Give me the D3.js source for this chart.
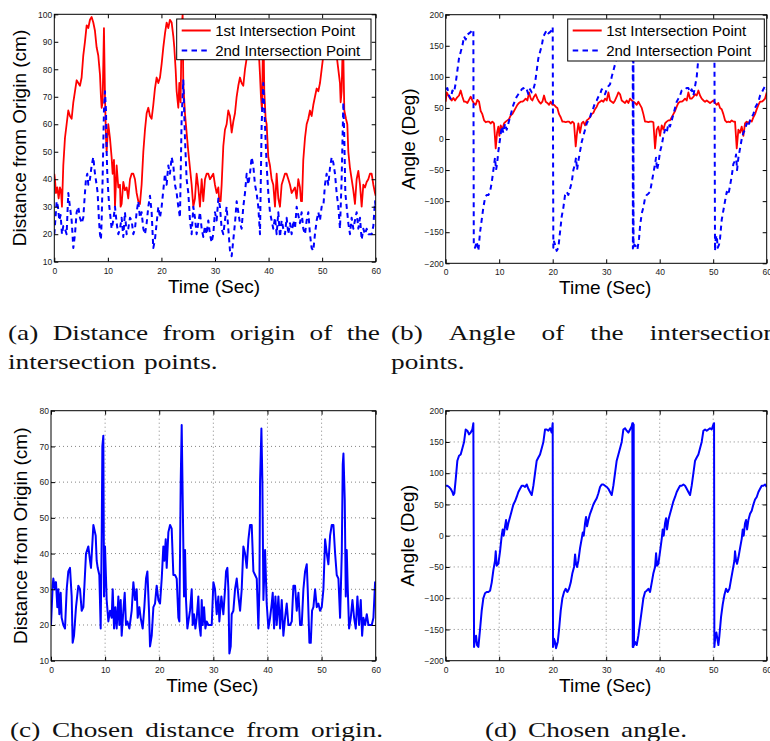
<!DOCTYPE html>
<html><head><meta charset="utf-8">
<script src="https://cdn.jsdelivr.net/npm/d3@7"></script>
<style>body{margin:0;background:#fff}svg{display:block}</style>
</head><body>
<svg id="chart" width="770" height="741"></svg>
<script>
// ---------- DATA ----------
const timeTicks = [0, 10, 20, 30, 40, 50, 60];
const distTicksA = [10, 20, 30, 40, 50, 60, 70, 80, 90, 100];
const distTicksC = [10, 20, 30, 40, 50, 60, 70, 80];
const angleTicks = [-200, -150, -100, -50, 0, 50, 100, 150, 200];
const legendLabels = ["1st Intersection Point", "2nd Intersection Point"];
const xLabel = "Time (Sec)";
const distLabel = "Distance from Origin (cm)";
const angleLabel = "Angle (Deg)";

// (a) distance of 1st intersection point [time s, cm]
const distFirst = [[0,42],[0.12,40],[0.31,35],[0.56,37],[0.81,33],[1.06,37],[1.24,36],[1.43,30],[1.68,45],[1.99,55],[2.30,60],[2.61,65],[2.92,63],[3.24,62],[3.55,68],[3.86,72],[4.17,76],[4.48,75],[4.79,74],[5.10,77],[5.41,85],[5.72,90],[6.04,96],[6.35,95],[6.66,98],[6.97,99],[7.28,97],[7.59,94],[7.90,88],[8.21,85],[8.53,78],[8.71,70],[8.84,66],[9.02,68],[9.27,95],[9.46,70],[9.65,55],[9.77,50],[10.08,60],[10.39,55],[10.70,48],[10.89,42],[11.14,47],[11.33,30],[11.64,45],[11.95,37],[12.26,38],[12.38,30],[12.57,31],[12.88,39],[13.19,36],[13.50,37],[13.81,33],[14.13,40],[14.44,42],[14.75,42],[15.06,40],[15.37,35],[15.68,32],[15.99,31],[16.30,38],[16.62,50],[16.93,58],[17.24,64],[17.55,66],[17.86,63],[18.17,62],[18.48,67],[18.79,73],[19.10,77],[19.42,75],[19.73,77],[20.04,82],[20.35,88],[20.66,93],[20.97,97],[21.28,95],[21.59,98],[21.91,97],[22.22,92],[22.40,88],[22.65,80],[22.84,72],[23.15,66],[23.34,75],[23.58,68],[23.77,95],[23.96,100],[24.08,75],[24.39,64],[24.70,57],[25.02,50],[25.33,44],[25.64,38],[25.95,30],[26.26,33],[26.57,42],[26.88,37],[27.19,30],[27.51,40],[27.82,32],[28.13,40],[28.44,42],[28.75,42],[29.06,40],[29.68,42],[29.99,38],[30.31,35],[30.62,37],[30.80,32],[31.05,32],[31.24,38],[31.55,52],[31.86,58],[32.17,60],[32.48,65],[32.80,63],[33.11,57],[33.42,61],[33.73,64],[34.04,70],[34.35,74],[34.66,77],[34.97,75],[35.28,74],[35.60,80],[35.91,84],[36.22,88],[36.53,93],[36.84,96],[37.15,97],[37.46,98],[37.77,95],[38.08,90],[38.40,78],[38.58,70],[38.77,65],[39.02,98],[39.20,72],[39.45,62],[39.64,60],[39.95,48],[40.26,45],[40.57,40],[40.88,38],[41.20,30],[41.51,42],[41.82,33],[42.13,30],[42.44,38],[42.75,40],[43.06,42],[43.37,42],[43.69,40],[44.00,38],[44.31,35],[44.62,36],[44.93,37],[45.24,33],[45.55,40],[45.86,37],[46.05,32],[46.24,32],[46.48,47],[46.80,55],[47.11,60],[47.42,62],[47.73,65],[48.04,63],[48.35,67],[48.66,70],[48.98,73],[49.29,72],[49.60,75],[49.91,80],[50.22,85],[50.53,90],[50.84,96],[51.15,98],[51.46,97],[51.78,97],[52.09,95],[52.40,90],[52.71,85],[53.02,80],[53.33,75],[53.46,68],[53.64,72],[53.83,88],[53.96,85],[54.14,65],[54.45,62],[54.70,60],[54.89,50],[55.20,44],[55.51,40],[55.82,36],[56.13,31],[56.44,40],[56.76,43],[57.07,38],[57.38,30],[57.69,38],[58.00,37],[58.31,39],[58.62,40],[58.93,42],[59.24,42],[59.56,38],[59.87,35],[60,34]];

// (a) distance of 2nd intersection point
const distSecond = [[0,20],[0.19,25],[0.44,32],[0.68,30],[0.93,25],[1.18,27],[1.43,20],[1.68,23],[1.99,22],[2.30,20],[2.61,35],[2.92,30],[3.24,25],[3.55,15],[3.86,20],[4.17,28],[4.48,30],[4.79,26],[5.10,24],[5.41,26],[5.72,35],[5.91,40],[6.16,42],[6.35,38],[6.66,40],[6.97,45],[7.28,48],[7.59,42],[7.90,38],[8.09,35],[8.34,25],[8.53,20],[8.71,18],[8.84,25],[9.02,40],[9.27,65],[9.46,72],[9.65,65],[9.77,50],[9.89,42],[10.08,35],[10.27,30],[10.39,28],[10.70,22],[11.01,25],[11.33,30],[11.64,24],[11.95,20],[12.26,22],[12.57,26],[12.88,19],[13.19,28],[13.50,20],[13.81,22],[14.13,26],[14.44,25],[14.75,20],[15.06,22],[15.37,28],[15.68,32],[15.99,26],[16.30,28],[16.62,22],[16.93,20],[17.24,24],[17.55,30],[17.86,34],[18.17,28],[18.48,15],[18.79,18],[19.10,24],[19.42,30],[19.73,26],[20.04,30],[20.35,36],[20.66,42],[20.97,38],[21.28,45],[21.59,42],[21.91,48],[22.22,45],[22.53,38],[22.84,35],[23.15,30],[23.46,26],[23.77,62],[24.08,76],[24.39,55],[24.70,40],[25.02,35],[25.33,25],[25.64,20],[25.95,30],[26.26,26],[26.57,20],[26.88,24],[27.19,28],[27.51,22],[27.82,19],[28.13,23],[28.44,20],[28.75,25],[29.06,20],[29.37,17],[29.68,20],[29.99,28],[30.31,25],[30.62,33],[30.93,30],[31.24,22],[31.55,20],[31.86,25],[32.17,30],[32.48,22],[32.80,14],[33.11,12],[33.42,18],[33.73,24],[34.04,32],[34.35,28],[34.66,24],[34.97,22],[35.28,30],[35.60,35],[35.91,42],[36.22,38],[36.53,42],[36.84,48],[37.15,45],[37.46,38],[37.77,35],[38.08,30],[38.40,20],[38.71,60],[39.02,75],[39.33,60],[39.64,45],[39.95,35],[40.26,28],[40.57,25],[40.88,22],[41.20,26],[41.51,20],[41.82,28],[42.13,19],[42.44,25],[42.75,22],[43.06,20],[43.37,26],[43.69,20],[44.00,24],[44.31,20],[44.62,25],[44.93,22],[45.24,30],[45.55,27],[45.86,24],[46.17,28],[46.48,22],[46.80,20],[47.11,25],[47.42,28],[47.73,20],[48.04,15],[48.35,14],[48.66,20],[48.98,25],[49.29,28],[49.60,25],[49.91,30],[50.22,30],[50.53,38],[50.84,42],[51.15,38],[51.46,44],[51.78,48],[52.09,46],[52.40,42],[52.71,35],[53.02,30],[53.33,22],[53.64,40],[53.96,68],[54.14,55],[54.33,35],[54.58,30],[54.89,24],[55.20,20],[55.51,26],[55.82,22],[56.13,25],[56.44,28],[56.76,22],[57.07,26],[57.38,18],[57.69,22],[58.00,20],[58.31,22],[58.62,20],[58.93,20],[59.24,20],[59.56,23],[59.87,32],[60,30]];

// (b) angle of 1st intersection point [time s, deg]
const angleFirst = [[0,60],[0.19,75],[0.50,70],[0.81,65],[1.12,62],[1.43,66],[1.74,62],[2.06,66],[2.49,70],[2.80,78],[3.12,68],[3.43,60],[3.74,60],[4.05,58],[4.36,63],[4.67,68],[4.98,62],[5.30,57],[5.61,55],[5.92,63],[6.23,60],[6.54,45],[6.85,40],[7.17,30],[7.48,27],[7.79,28],[8.10,28],[8.41,25],[8.72,28],[9.03,25],[9.35,-15],[9.60,10],[9.84,20],[10.03,5],[10.28,22],[10.59,15],[10.90,25],[11.22,28],[11.53,30],[11.84,32],[12.15,38],[12.46,40],[12.77,45],[13.09,50],[13.40,55],[13.71,58],[14.02,60],[14.33,60],[14.64,62],[14.95,65],[15.27,62],[15.58,75],[15.89,65],[16.20,62],[16.51,68],[16.82,72],[17.14,65],[17.45,60],[17.76,57],[18.07,60],[18.38,70],[18.69,60],[19.00,58],[19.32,55],[19.63,60],[19.94,55],[20.25,55],[20.56,52],[20.87,50],[21.19,40],[21.50,35],[21.81,28],[22.12,28],[22.43,27],[22.74,28],[23.05,28],[23.37,25],[23.68,28],[23.99,25],[24.30,-12],[24.55,10],[24.80,25],[25.11,10],[25.42,25],[25.73,28],[26.05,22],[26.36,30],[26.67,32],[26.98,35],[27.29,40],[27.60,42],[27.91,48],[28.23,52],[28.54,58],[28.85,60],[29.16,62],[29.47,60],[29.78,65],[30.10,62],[30.41,75],[30.72,62],[31.03,60],[31.34,58],[31.65,62],[31.96,68],[32.28,75],[32.59,72],[32.90,62],[33.21,60],[33.52,58],[33.83,62],[34.15,58],[34.46,65],[34.77,62],[35.08,60],[35.39,58],[35.70,55],[36.01,60],[36.33,55],[36.64,50],[36.95,40],[37.26,28],[37.57,28],[37.88,27],[38.20,28],[38.51,28],[38.82,27],[39.13,-15],[39.44,15],[39.75,20],[40.07,5],[40.38,22],[40.69,15],[41.00,25],[41.31,28],[41.62,30],[41.93,30],[42.25,35],[42.56,40],[42.87,45],[43.18,52],[43.49,58],[43.80,60],[44.11,60],[44.43,62],[44.74,65],[45.05,62],[45.36,75],[45.67,65],[45.98,65],[46.30,68],[46.61,72],[46.92,70],[47.23,78],[47.54,70],[47.85,65],[48.17,62],[48.48,60],[48.79,62],[49.10,60],[49.41,58],[49.72,60],[50.03,62],[50.34,58],[50.66,55],[50.97,58],[51.28,50],[51.59,48],[51.90,40],[52.21,30],[52.53,27],[52.84,28],[53.15,27],[53.46,30],[53.77,28],[54.08,28],[54.40,-15],[54.71,15],[55.02,10],[55.33,20],[55.64,5],[55.95,25],[56.26,28],[56.58,25],[56.89,30],[57.20,28],[57.51,35],[57.82,40],[58.14,48],[58.45,55],[58.76,60],[59.07,60],[59.38,62],[59.69,65],[60,75]];

// (b) angle of 2nd intersection point
const angleSecond = [[0,80],[0.31,82],[0.62,70],[0.93,65],[1.25,78],[1.56,75],[1.87,90],[2.18,110],[2.49,130],[2.80,140],[3.12,150],[3.43,165],[3.74,160],[4.05,168],[4.36,170],[4.67,172],[4.98,175],[5.17,176],[5.25,-170],[5.48,-175],[5.80,-165],[6.11,-180],[6.42,-150],[6.73,-130],[7.04,-110],[7.35,-95],[7.66,-90],[7.98,-90],[8.29,-85],[8.60,-70],[8.91,-50],[9.22,-30],[9.41,-50],[9.60,-40],[9.84,-20],[10.16,0],[10.47,20],[10.78,10],[11.09,25],[11.40,15],[11.71,25],[12.03,35],[12.34,45],[12.65,55],[12.96,62],[13.27,68],[13.58,72],[13.90,75],[14.21,80],[14.52,82],[14.83,78],[15.14,80],[15.45,72],[15.76,80],[16.08,75],[16.39,80],[16.70,90],[17.01,110],[17.32,130],[17.63,140],[17.95,150],[18.26,165],[18.57,170],[18.88,175],[19.19,170],[19.50,172],[19.81,175],[20.00,180],[20.12,-175],[20.25,-165],[20.44,-170],[20.75,-180],[21.06,-175],[21.37,-150],[21.68,-125],[22.00,-110],[22.31,-90],[22.62,-85],[22.93,-90],[23.24,-80],[23.55,-70],[23.86,-50],[24.18,-40],[24.36,-30],[24.55,-50],[24.80,-35],[25.11,-20],[25.42,-5],[25.73,5],[26.05,15],[26.36,25],[26.67,30],[26.98,35],[27.29,45],[27.60,50],[27.91,58],[28.23,62],[28.54,68],[28.85,72],[29.16,80],[29.47,78],[29.78,72],[30.10,80],[30.41,85],[30.72,88],[31.03,100],[31.34,110],[31.65,120],[31.96,130],[32.28,150],[32.90,170],[33.52,170],[34.15,172],[34.77,175],[34.96,180],[34.99,-176],[35.02,179],[35.05,-175],[35.08,178],[35.11,-174],[35.27,-170],[35.52,-172],[35.83,-178],[36.14,-160],[36.33,-140],[36.64,-120],[36.95,-110],[37.26,-95],[37.57,-90],[37.88,-88],[38.20,-85],[38.51,-70],[38.82,-55],[39.13,-40],[39.32,-30],[39.50,-50],[39.75,-40],[40.07,-20],[40.38,-10],[40.69,5],[41.00,15],[41.31,10],[41.62,25],[41.93,20],[42.25,30],[42.56,40],[42.87,50],[43.18,60],[43.49,65],[43.80,70],[44.11,78],[44.43,80],[44.74,80],[45.05,82],[45.36,82],[45.67,75],[45.98,80],[46.30,70],[46.61,85],[46.92,100],[47.23,130],[47.54,150],[48.17,165],[48.79,170],[49.41,172],[50.03,175],[50.22,178],[50.34,-180],[50.47,-160],[50.66,-155],[50.84,-175],[51.09,-170],[51.28,-160],[51.59,-130],[51.90,-115],[52.21,-100],[52.53,-85],[52.84,-90],[53.15,-75],[53.46,-60],[53.77,-40],[54.08,-35],[54.27,-25],[54.46,-50],[54.71,-30],[55.02,-15],[55.33,0],[55.64,10],[55.95,15],[56.26,25],[56.58,20],[56.89,30],[57.20,35],[57.51,40],[57.82,50],[58.14,55],[58.45,60],[58.76,70],[59.07,75],[59.38,80],[59.69,85],[60,80]];

// (c) chosen distance from origin
const chosenDist = [[0,20],[0.31,31],[0.43,33],[0.74,30],[0.92,32],[1.17,25],[1.36,30],[1.54,23],[1.79,29],[1.97,22],[2.28,20],[2.59,19],[2.90,30],[3.20,35],[3.51,36],[3.82,28],[4.00,15],[4.25,17],[4.62,25],[5.05,31],[5.36,30],[5.67,24],[5.98,25],[6.47,40],[6.90,42],[7.21,38],[7.39,36],[7.83,48],[8.26,45],[8.44,38],[8.63,36],[8.93,34],[9.18,19],[9.37,45],[9.49,70],[9.67,73],[9.80,28],[9.98,42],[10.29,27],[10.60,21],[10.91,24],[11.21,22],[11.40,30],[11.65,19],[11.89,25],[12.14,19],[12.45,28],[12.63,20],[12.88,27],[13.06,17],[13.37,24],[13.62,29],[13.86,20],[14.11,21],[14.48,19],[14.91,24],[15.22,32],[15.53,27],[15.83,30],[16.02,22],[16.33,25],[16.57,22],[16.94,19],[17.25,25],[17.56,33],[17.81,35],[18.11,24],[18.30,14],[18.61,17],[18.92,25],[19.22,26],[19.53,31],[19.84,27],[20.15,26],[20.46,33],[20.76,42],[20.95,38],[21.20,44],[21.38,36],[21.69,46],[22.00,48],[22.30,47],[22.61,34],[22.92,34],[23.23,33],[23.54,22],[23.72,21],[23.97,60],[24.15,76],[24.34,55],[24.58,28],[24.77,41],[24.95,27],[25.20,19],[25.39,21],[25.69,24],[26.00,30],[26.19,20],[26.43,23],[26.68,19],[26.93,22],[27.23,28],[27.42,20],[27.66,17],[27.85,27],[28.03,20],[28.28,25],[28.53,19],[28.77,21],[29.08,20],[29.39,20],[29.70,20],[30.01,32],[30.31,30],[30.62,23],[30.93,28],[31.11,21],[31.48,28],[31.85,23],[32.16,30],[32.35,35],[32.59,36],[32.78,30],[32.96,12],[33.21,14],[33.39,23],[33.70,24],[34.01,30],[34.32,33],[34.63,28],[34.94,24],[35.24,30],[35.55,42],[35.86,40],[36.17,36],[36.48,44],[36.78,48],[37.09,48],[37.40,35],[37.71,34],[38.02,33],[38.32,19],[38.51,30],[38.63,60],[38.88,75],[39.06,60],[39.25,27],[39.56,41],[39.86,26],[40.17,19],[40.48,22],[40.79,26],[40.97,29],[41.22,19],[41.47,28],[41.71,20],[42.02,28],[42.33,19],[42.64,27],[42.94,17],[43.25,22],[43.56,26],[43.87,20],[44.18,20],[44.49,21],[44.79,31],[45.10,31],[45.41,24],[45.72,29],[46.03,20],[46.33,20],[46.64,30],[46.95,35],[47.26,37],[47.44,30],[47.75,15],[48.00,15],[48.24,24],[48.49,25],[48.80,30],[49.11,25],[49.41,26],[49.72,24],[50.03,25],[50.34,30],[50.65,44],[50.96,40],[51.26,37],[51.57,45],[51.88,48],[52.19,48],[52.50,40],[52.80,34],[53.11,33],[53.42,22],[53.73,40],[53.91,65],[54.04,68],[54.28,55],[54.47,28],[54.65,41],[54.84,30],[55.08,19],[55.39,22],[55.70,27],[56.01,22],[56.32,19],[56.62,28],[56.93,20],[57.24,27],[57.49,17],[57.73,22],[58.04,20],[58.35,23],[58.66,20],[58.97,20],[59.27,20],[59.58,22],[59.89,32],[60,31]];

// (d) chosen angle
const chosenAngle = [[0,80],[0.31,80],[0.62,78],[0.93,75],[1.25,70],[1.43,65],[1.62,68],[1.87,90],[2.18,120],[2.49,128],[2.80,130],[3.12,140],[3.43,150],[3.74,170],[4.05,168],[4.36,162],[4.67,165],[4.98,170],[5.17,180],[5.30,-178],[5.48,-165],[5.67,-160],[5.86,-175],[6.11,-178],[6.42,-150],[6.73,-120],[7.04,-100],[7.35,-92],[7.66,-90],[7.98,-90],[8.29,-88],[8.60,-75],[8.91,-55],[9.22,-40],[9.35,-25],[9.53,-48],[9.84,-45],[10.16,-25],[10.47,0],[10.65,10],[10.84,0],[11.09,15],[11.28,25],[11.47,10],[11.71,20],[12.03,30],[12.34,40],[12.65,50],[12.96,55],[13.27,62],[13.58,70],[13.90,75],[14.21,80],[14.52,80],[14.83,78],[15.14,82],[15.45,75],[15.76,70],[16.08,65],[16.39,80],[16.70,100],[17.01,120],[17.32,125],[17.63,130],[17.95,140],[18.26,150],[18.57,170],[18.88,170],[19.19,168],[19.50,172],[19.81,165],[20.00,180],[20.06,-178],[20.25,-165],[20.44,-170],[20.62,-180],[20.94,-170],[21.19,-150],[21.50,-120],[21.81,-100],[22.12,-90],[22.43,-85],[22.74,-90],[23.05,-85],[23.37,-75],[23.68,-60],[23.99,-50],[24.18,-30],[24.36,-45],[24.55,-50],[24.80,-40],[25.11,-20],[25.42,-5],[25.61,5],[25.80,0],[26.05,20],[26.23,30],[26.42,15],[26.67,25],[26.98,35],[27.29,42],[27.60,50],[27.91,55],[28.23,60],[28.54,68],[28.85,78],[29.16,82],[29.47,82],[29.78,80],[30.10,78],[30.41,75],[30.72,70],[31.03,65],[31.34,80],[31.65,100],[31.96,120],[32.28,130],[32.59,140],[32.90,150],[33.21,170],[33.52,172],[33.83,168],[34.15,165],[34.46,170],[34.77,175],[34.89,180],[34.96,-178],[35.02,180],[35.08,-178],[35.14,178],[35.20,-175],[35.39,-170],[35.70,-175],[36.01,-160],[36.33,-140],[36.64,-120],[36.95,-100],[37.26,-90],[37.57,-88],[37.88,-85],[38.20,-90],[38.51,-75],[38.82,-60],[39.13,-50],[39.32,-28],[39.50,-48],[39.75,-45],[40.07,-25],[40.38,-5],[40.56,10],[40.75,0],[41.00,20],[41.19,28],[41.37,10],[41.62,25],[41.93,35],[42.25,45],[42.56,55],[42.87,62],[43.18,70],[43.49,75],[43.80,80],[44.11,80],[44.43,82],[44.74,80],[45.05,75],[45.36,70],[45.67,65],[45.98,80],[46.30,100],[46.61,120],[46.92,125],[47.23,130],[47.54,140],[47.85,150],[48.17,168],[48.48,170],[48.79,168],[49.10,170],[49.41,172],[49.72,170],[50.03,178],[50.16,180],[50.22,-178],[50.41,-160],[50.60,-155],[50.78,-165],[50.97,-175],[51.16,-160],[51.47,-130],[51.78,-110],[52.09,-95],[52.40,-85],[52.71,-90],[53.03,-85],[53.34,-70],[53.65,-55],[53.96,-40],[54.08,-25],[54.27,-40],[54.46,-45],[54.71,-35],[55.02,-20],[55.33,-5],[55.52,10],[55.70,0],[55.95,20],[56.14,25],[56.33,10],[56.58,25],[56.89,35],[57.20,40],[57.51,50],[57.82,58],[58.14,62],[58.45,70],[58.76,75],[59.07,80],[59.38,80],[59.69,82],[60,78]];

const captionA = [["(a)","Distance","from","origin","of","the"],["intersection","points."]];
const captionB = [["(b)","Angle","of","the","intersection"],["points."]];
const captionC = [["(c)","Chosen","distance","from","origin."]];
const captionD = [["(d)","Chosen","angle."]];

// ---------- DRAW ----------
const svg = d3.select("#chart");
const SANS = "'Liberation Sans', Arial, Helvetica, sans-serif";
const SERIF = "'Liberation Serif', 'Times New Roman', serif";
const RED = "#ff0000", BLUE = "#0000ff";

const panels = [
  {id:"a", l:54.3, r:375.7, t:14.3, b:261.7, yDomain:[10,100], yTicks:distTicksA, yLabel:distLabel, ylx:25.8, grid:false,
   series:[{data:distFirst,color:RED,width:1.8,dash:null},{data:distSecond,color:BLUE,width:2,dash:"5,4"}],
   legend:{x:176.7,y:19,w:194.3,h:40.7}},
  {id:"b", l:445.7, r:766.7, t:14.7, b:263.3, yDomain:[-200,200], yTicks:angleTicks, yLabel:angleLabel, ylx:414.8, grid:false,
   series:[{data:angleFirst,color:RED,width:1.8,dash:null},{data:angleSecond,color:BLUE,width:2,dash:"5,4"}],
   legend:{x:567.7,y:19,w:196.6,h:42}},
  {id:"c", l:51, r:375.7, t:410.7, b:660.7, yDomain:[10,80], yTicks:distTicksC, yLabel:distLabel, ylx:26.6, grid:true,
   series:[{data:chosenDist,color:BLUE,width:2,dash:null}]},
  {id:"d", l:445.7, r:766.7, t:410.7, b:660.7, yDomain:[-200,200], yTicks:angleTicks, yLabel:angleLabel, ylx:414, grid:true,
   series:[{data:chosenAngle,color:BLUE,width:2,dash:null}]}
];

panels.forEach(p => {
  const x = d3.scaleLinear().domain([0,60]).range([p.l,p.r]);
  const y = d3.scaleLinear().domain(p.yDomain).range([p.b,p.t]);
  const g = svg.append("g");

  g.append("clipPath").attr("id","clip-"+p.id)
    .append("rect").attr("x",p.l).attr("y",p.t).attr("width",p.r-p.l).attr("height",p.b-p.t);

  if (p.grid) {
    const gg = g.append("g").attr("stroke","#666").attr("stroke-width",0.8).attr("stroke-dasharray","1,3");
    gg.selectAll("line.vx").data(timeTicks.slice(1,-1)).join("line")
      .attr("x1",d=>x(d)).attr("x2",d=>x(d)).attr("y1",p.t).attr("y2",p.b);
    gg.selectAll("line.hy").data(p.yTicks.slice(1,-1)).join("line")
      .attr("x1",p.l).attr("x2",p.r).attr("y1",d=>y(d)).attr("y2",d=>y(d));
  }

  const line = d3.line().x(d=>x(d[0])).y(d=>y(d[1]));
  const lg = g.append("g").attr("clip-path",`url(#clip-${p.id})`);
  p.series.forEach(s => {
    lg.append("path").datum(s.data).attr("d",line)
      .attr("fill","none").attr("stroke",s.color).attr("stroke-width",s.width)
      .attr("stroke-linejoin","round")
      .attr("stroke-dasharray",s.dash);
  });

  const styleAxis = sel => {
    sel.select(".domain").remove();
    sel.attr("font-family",SANS).attr("font-size",8.5);
    sel.selectAll("text").attr("fill","#1a1a1a");
    sel.selectAll("line").attr("stroke","#000");
  };
  g.append("g").attr("transform",`translate(0,${p.b})`)
    .call(d3.axisBottom(x).tickValues(timeTicks).tickSize(-4).tickPadding(6)).call(styleAxis);
  g.append("g").attr("transform",`translate(0,${p.t})`)
    .call(d3.axisTop(x).tickValues(timeTicks).tickSize(-4).tickFormat("")).call(styleAxis);
  g.append("g").attr("transform",`translate(${p.l},0)`)
    .call(d3.axisLeft(y).tickValues(p.yTicks).tickSize(-4).tickPadding(2)).call(styleAxis);
  g.append("g").attr("transform",`translate(${p.r},0)`)
    .call(d3.axisRight(y).tickValues(p.yTicks).tickSize(-4).tickFormat("")).call(styleAxis);

  g.append("rect").attr("x",p.l).attr("y",p.t).attr("width",p.r-p.l).attr("height",p.b-p.t)
    .attr("fill","none").attr("stroke","#000").attr("stroke-width",1);

  g.append("text").attr("x",(p.l+p.r)/2 - 1).attr("y",p.b+31)
    .attr("text-anchor","middle").attr("font-family",SANS).attr("font-size",19).text(xLabel);
  g.append("text").attr("transform",`translate(${p.ylx},${(p.t+p.b)/2}) rotate(-90)`)
    .attr("text-anchor","middle").attr("font-family",SANS).attr("font-size",19).text(p.yLabel);

  if (p.legend) {
    const L = p.legend;
    const lgd = g.append("g");
    lgd.append("rect").attr("x",L.x).attr("y",L.y).attr("width",L.w).attr("height",L.h)
      .attr("fill","#fff").attr("stroke","#000").attr("stroke-width",1);
    p.series.forEach((s,i) => {
      const cy = L.y + 11.5 + i*20;
      lgd.append("line").attr("x1",L.x+5).attr("x2",L.x+34).attr("y1",cy).attr("y2",cy)
        .attr("stroke",s.color).attr("stroke-width",2).attr("stroke-dasharray",s.dash ? "5.5,4.3" : null);
      lgd.append("text").attr("x",L.x+38.5).attr("y",cy+5.6)
        .attr("font-family",SANS).attr("font-size",15).text(legendLabels[i]);
    });
  }
});

// captions (LaTeX-like serif), words placed along each line
const K = 1.24, FS = 22, GAP = 8.8;
function caption(lines, x0, y0, x1s) {
  lines.forEach((words, li) => {
    const y = y0 + li * 29.5;
    const texts = words.map(w => svg.append("text").attr("y",y)
      .attr("font-family",SERIF).attr("font-size",FS).attr("fill","#111").text(w));
    const widths = texts.map(t => t.node().getComputedTextLength() * K);
    let gap = GAP;
    const x1 = x1s ? x1s[li] : null;
    if (x1 != null && words.length > 1) gap = (x1 - x0 - d3.sum(widths)) / (words.length - 1);
    let xx = x0;
    texts.forEach((t,i) => {
      t.attr("x",xx).attr("textLength",widths[i]).attr("lengthAdjust","spacingAndGlyphs");
      xx += widths[i] + gap;
    });
  });
}
caption(captionA, 8, 339.5, [380, null]);
caption(captionB, 391, 339.5, [777, null]);
caption(captionC, 10, 737, [383]);
caption(captionD, 485, 737, [687]);
</script>
</body></html>
